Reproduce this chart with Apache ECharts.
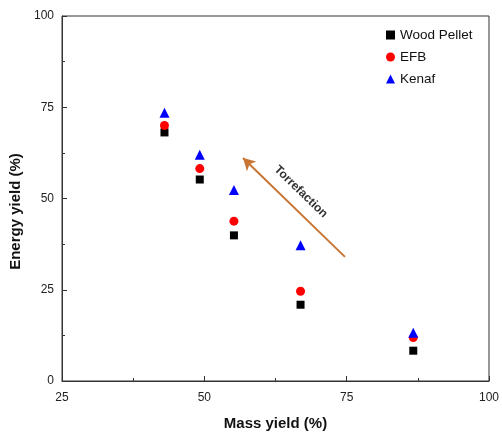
<!DOCTYPE html>
<html>
<head>
<meta charset="utf-8">
<script src="https://cdn.jsdelivr.net/npm/echarts@6/dist/echarts.min.js"></script>
<style>
  html, body { margin: 0; padding: 0; background: #fff; }
  #main { width: 502px; height: 437px; }
</style>
</head>
<body>
<div id="main"></div>
<script>
  // values
  var massYield = [43.0, 49.2, 55.2, 66.9, 86.7];
  var woodPellet = [68.1, 55.2, 39.9, 20.9, 8.3];
  var efb = [70.0, 58.2, 43.8, 24.6, 11.9];
  var kenaf = [73.5, 62.0, 52.3, 37.2, 13.2];
  var seriesNames = ['Wood Pellet', 'EFB', 'Kenaf'];
  // torrefaction arrow, data coords (tail -> head)
  var arrowFrom = [74.7, 34.0];
  var arrowTo = [56.8, 61.1];

  function pairs(ys) {
    return ys.map(function (y, i) { return [massYield[i], y]; });
  }

  var font = '"Liberation Sans", Arial, sans-serif';
  var axisCol = '#333';

  var myChart = echarts.init(document.getElementById('main'));
  var option = {
    animation: false,
    textStyle: { fontFamily: font },
    grid: {
      left: 62, right: 9, top: 16, bottom: 56,
      show: true, borderColor: axisCol, borderWidth: 1
    },
    legend: {
      orient: 'vertical',
      left: 381, top: 23,
      itemWidth: 9, itemHeight: 9, itemGap: 8,
      textStyle: { fontSize: 13.5, color: '#111', fontFamily: font },
      data: [
        { name: seriesNames[0], icon: 'rect' },
        { name: seriesNames[1], icon: 'circle' },
        { name: seriesNames[2], icon: 'triangle' }
      ]
    },
    xAxis: {
      type: 'value', min: 25, max: 100, interval: 25,
      name: 'Mass yield (%)', nameLocation: 'middle', nameGap: 35,
      nameTextStyle: { fontSize: 15, fontWeight: 'bold', color: '#111', fontFamily: font },
      axisLine: { lineStyle: { color: axisCol } },
      axisTick: { inside: true, length: 5, lineStyle: { color: axisCol } },
      minorTick: { show: true, splitNumber: 2, length: 3, lineStyle: { color: axisCol } },
      splitLine: { show: false },
      axisLabel: { fontSize: 12, color: '#222', margin: 11 }
    },
    yAxis: {
      type: 'value', min: 0, max: 100, interval: 25,
      name: 'Energy yield (%)', nameLocation: 'middle', nameGap: 38,
      nameTextStyle: { fontSize: 15, fontWeight: 'bold', color: '#111', fontFamily: font, padding: [0, 26, 0, 0] },
      axisLine: { lineStyle: { color: axisCol } },
      axisTick: { inside: true, length: 5, lineStyle: { color: axisCol } },
      minorTick: { show: true, splitNumber: 2, length: 3, lineStyle: { color: axisCol } },
      splitLine: { show: false },
      axisLabel: { fontSize: 12, color: '#222', margin: 8 }
    },
    series: [
      {
        name: seriesNames[0], type: 'scatter', symbol: 'rect', symbolSize: 8,
        itemStyle: { color: '#000', opacity: 1 }, data: pairs(woodPellet), z: 3
      },
      {
        name: seriesNames[1], type: 'scatter', symbol: 'circle', symbolSize: 9,
        itemStyle: { color: '#ff0000', opacity: 1 }, data: pairs(efb), z: 4
      },
      {
        name: seriesNames[2], type: 'scatter', symbol: 'triangle', symbolSize: 10,
        itemStyle: { color: '#0000ff', opacity: 1 }, data: pairs(kenaf), z: 5,
        markLine: {
          silent: true,
          symbol: ['none', 'arrow'],
          symbolSize: [10, 12],
          lineStyle: { color: '#c87533', width: 2, type: 'solid' },
          label: {
            show: true, position: 'middle', formatter: 'Torrefaction',
            fontSize: 12, fontWeight: 'bold', color: '#333', distance: 10,
            padding: [0, 12, 0, 0]
          },
          data: [[{ coord: arrowFrom }, { coord: arrowTo }]]
        }
      }
    ]
  };
  myChart.setOption(option);
</script>
</body>
</html>
